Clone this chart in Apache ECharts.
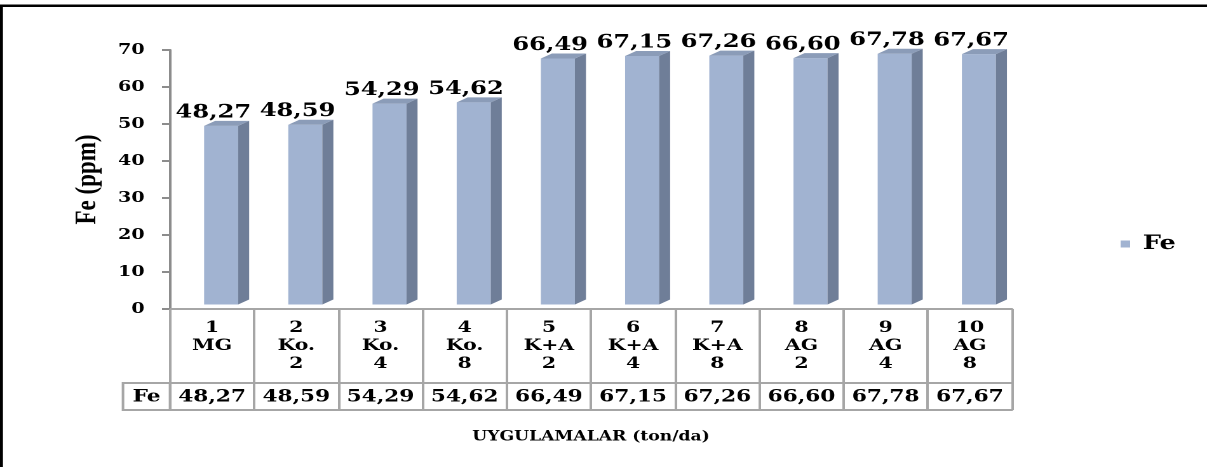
<!DOCTYPE html>
<html>
<head>
<meta charset="utf-8">
<script src="https://cdn.jsdelivr.net/npm/echarts@6/dist/echarts.min.js"></script>
<style>
  html, body { margin: 0; padding: 0; background: #fff; overflow: hidden; }
  #frame { width: 1207px; height: 467px; overflow: hidden; }
  /* chart laid out narrower, then widened to the full frame */
  #chart { width: 950px; height: 467px; transform: scaleX(1.27053); transform-origin: 0 0; }
</style>
</head>
<body>
<div id="frame"><div id="chart"></div></div>
<script>
// Treatments (ton/da)
const categories = ['1\nMG', '2\nKo.\n2', '3\nKo.\n4', '4\nKo.\n8', '5\nK+A\n2',
                    '6\nK+A\n4', '7\nK+A\n8', '8\nAG\n2', '9\nAG\n4', '10\nAG\n8'];
// Fe content (ppm)
const feValues = [48.27, 48.59, 54.29, 54.62, 66.49, 67.15, 67.26, 66.60, 67.78, 67.67];
const seriesName = 'Fe';
const yTicks = { min: 0, max: 70, step: 10 };

const fmt = v => v.toFixed(2).replace('.', ',');
const valueRow = feValues.map(fmt);

const FONT = 'DejaVu Serif';
const FRONT = '#A1B3D1';
const SIDE = '#6F7E98';
const TOP = '#8B9CB8';
const GRID_LINE = '#A6A6A6';

const GRID = { left: 133.8, right: 153.5, top: 50, bottom: 158 };

function renderBar(params, api) {
  const i = api.value(0);
  const v = api.value(1);
  const base = api.coord([i, 0]);
  const head = api.coord([i, v]);
  const band = api.size([1, 0])[0];
  const cx = base[0];
  const xl = cx - band * 0.095;
  const xr = cx + band * 0.309;
  const xs = cx + band * 0.44;
  const dx = xs - xr;
  const dy = 5;
  const lift = 4.5;
  const yb = base[1] - lift;
  const yt = head[1] - lift;
  return {
    type: 'group',
    children: [
      { type: 'rect', shape: { x: xl, y: yt, width: xr - xl, height: yb - yt },
        style: { fill: FRONT } },
      { type: 'polygon', shape: { points: [[xr, yb], [xs, yb - dy], [xs, yt - dy], [xr, yt]] },
        style: { fill: SIDE } },
      { type: 'polygon', shape: { points: [[xl, yt], [xl + dx, yt - dy], [xs, yt - dy], [xr, yt]] },
        style: { fill: TOP } },
      { type: 'text', x: cx + 1, y: head[1] - 18,
        style: { text: fmt(v), fill: '#000', font: 'bold 19px "' + FONT + '"',
                 align: 'center', verticalAlign: 'middle' } }
    ]
  };
}

const chart = echarts.init(document.getElementById('chart'), null, { renderer: 'canvas', devicePixelRatio: 2 });

const option = {
  backgroundColor: '#fff',
  animation: false,
  grid: GRID,
  legend: {
    data: [{ name: seriesName, itemStyle: { color: FRONT } }],
    icon: 'rect',
    itemWidth: 7.5,
    itemHeight: 7,
    left: 877,
    top: 229,
    textStyle: { fontFamily: FONT, fontWeight: 'bold', fontSize: 20, color: '#000', padding: [0, 0, 0, 5] }
  },
  xAxis: [
    {
      type: 'category',
      data: categories,
      position: 'bottom',
      axisLine: { lineStyle: { color: GRID_LINE, width: 2 } },
      axisTick: { show: true, length: 101, lineStyle: { color: GRID_LINE, width: 2 } },
      axisLabel: { margin: 10, fontFamily: FONT, fontWeight: 'bold', fontSize: 16,
                   lineHeight: 18, color: '#000', interval: 0, verticalAlign: 'top' },
      splitLine: { show: false }
    },
    {
      type: 'category',
      data: valueRow,
      position: 'bottom',
      offset: 74,
      axisLine: { lineStyle: { color: GRID_LINE, width: 2 } },
      axisTick: { show: false },
      axisLabel: { margin: 5, fontFamily: FONT, fontWeight: 'bold', fontSize: 17,
                   lineHeight: 18, color: '#000', interval: 0 }
    },
    {
      type: 'category',
      data: categories,
      position: 'bottom',
      offset: 101,
      axisLine: { lineStyle: { color: GRID_LINE, width: 2 } },
      axisTick: { show: false },
      axisLabel: { show: false },
      name: 'UYGULAMALAR (ton/da)',
      nameLocation: 'middle',
      nameGap: 20,
      nameTextStyle: { fontFamily: FONT, fontWeight: 'bold', fontSize: 13.5, color: '#000' }
    }
  ],
  yAxis: {
    type: 'value',
    min: yTicks.min,
    max: yTicks.max,
    interval: yTicks.step,
    name: 'Fe (ppm)',
    nameLocation: 'middle',
    nameGap: 53,
    nameTextStyle: { fontFamily: 'Liberation Serif', fontWeight: 'bold', fontSize: 23, color: '#000' },
    axisLine: { show: true, lineStyle: { color: '#8C8C8C', width: 2 } },
    axisTick: { show: true, length: 6.3, lineStyle: { color: '#8C8C8C', width: 2 } },
    axisLabel: { margin: 20, fontFamily: FONT, fontWeight: 'bold', fontSize: 15, color: '#000' },
    splitLine: { show: false }
  },
  series: [{
    name: seriesName,
    type: 'custom',
    xAxisIndex: 0,
    yAxisIndex: 0,
    itemStyle: { color: FRONT },
    renderItem: renderBar,
    encode: { x: 0, y: 1 },
    data: feValues.map((v, i) => [i, v])
  }],
  graphic: [
    // outer frame (top and left edges)
    { type: 'rect', shape: { x: 0, y: 4.5, width: 950, height: 2.5 }, style: { fill: '#000' } },
    { type: 'rect', shape: { x: 0, y: 4.5, width: 2.3, height: 463 }, style: { fill: '#000' } },
    // row header cell of the data table
    { type: 'rect', shape: { x: 96.8, y: 383, width: 37, height: 27 },
      style: { fill: 'none', stroke: GRID_LINE, lineWidth: 2 } },
    { type: 'text', x: 115.3, y: 397,
      style: { text: seriesName, fill: '#000', font: 'bold 17px "' + FONT + '"',
               align: 'center', verticalAlign: 'middle' } }
  ]
};

chart.setOption(option);
</script>
</body>
</html>
